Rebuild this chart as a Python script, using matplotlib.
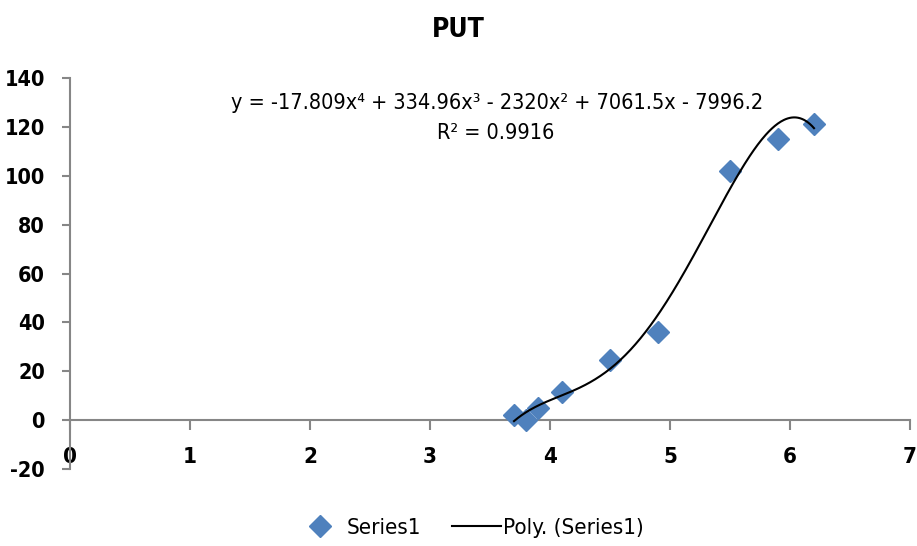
import numpy as np
import matplotlib
matplotlib.use("Agg")
import matplotlib.pyplot as plt
from matplotlib.lines import Line2D

plt.rcParams['font.family'] = ['DejaVu Sans']
plt.rcParams['font.stretch'] = 'condensed'

# measured points
x_vals = [3.7, 3.8, 3.9, 4.1, 4.5, 4.9, 5.5, 5.9, 6.2]
y_vals = [2, 0, 5, 11.5, 24.5, 36, 102, 115, 121]

# 4th order trendline coefficients (highest power first)
coeffs = [-17.809, 334.96, -2320, 7061.5, -7996.2]
r_squared = 0.9916

x_ticks = list(range(0, 8))
y_ticks = list(range(-20, 141, 20))

blue = "#4F81BD"
grey = "#868686"

fig = plt.figure(figsize=(9.17, 5.46), dpi=100)
ax = fig.add_axes([70 / 917, 1 - 469 / 546, 840 / 917, 391 / 546])

ax.plot(x_vals, y_vals, linestyle="none", marker="D", markersize=11,
        color=blue, zorder=3)
xs = np.linspace(min(x_vals), max(x_vals), 300)
ax.plot(xs, np.polyval(coeffs, xs), color="black", linewidth=1.5, zorder=4)

ax.set_xlim(0, 7)
ax.set_ylim(-20, 140)
ax.set_xticks(x_ticks)
ax.set_yticks(y_ticks)
ax.set_xticklabels([str(v) for v in x_ticks])
ax.set_yticklabels([str(v) for v in y_ticks])

for side in ("top", "right"):
    ax.spines[side].set_visible(False)
ax.spines["bottom"].set_position(("data", 0))
ax.spines["left"].set_color(grey)
ax.spines["bottom"].set_color(grey)
ax.spines["left"].set_linewidth(1.5)
ax.spines["bottom"].set_linewidth(1.5)
ax.tick_params(axis="x", direction="out", length=7, width=1.5, color=grey,
               labelsize=16, pad=12)
ax.tick_params(axis="y", direction="out", length=6, width=1.5, color=grey,
               labelsize=15.5, pad=12)
for lab in ax.get_xticklabels() + ax.get_yticklabels():
    lab.set_fontweight("bold")

# trendline equation and fit quality
ax.text(3.56, 129.8,
        f"y = {coeffs[0]}x⁴ + {coeffs[1]}x³ - {-coeffs[2]}x² + {coeffs[3]}x - {-coeffs[4]}",
        ha="center", va="center", fontsize=15.5)
ax.text(3.55, 117.6, f"R² = {r_squared}", ha="center", va="center",
        fontsize=15.5)

fig.text(0.5, 1 - 30 / 546, "PUT", ha="center", va="center",
         fontsize=19, fontweight="bold")

handles = [
    Line2D([], [], linestyle="none", marker="D", markersize=11, color=blue),
    Line2D([], [], color="black", linewidth=1.5),
]
fig.legend(handles, ["Series1", "Poly. (Series1)"], loc="center",
           bbox_to_anchor=(0.5 + 11 / 917, 1 - 528 / 546), ncol=2,
           frameon=False, fontsize=16, handlelength=2.2, handletextpad=0.1,
           columnspacing=1.4)

fig.savefig("out.png", dpi=100)
